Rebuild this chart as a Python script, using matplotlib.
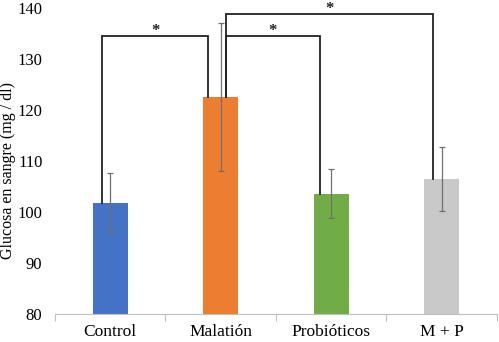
import matplotlib
matplotlib.use("Agg")
import matplotlib.pyplot as plt
from matplotlib.ticker import FixedLocator

categories = ["Control", "Malatión", "Probióticos", "M + P"]
values = [101.8, 122.6, 103.6, 106.5]
errors = [5.8, 14.5, 4.8, 6.3]
colors = ["#4472C4", "#ED7D31", "#70AD47", "#C9C9C9"]
# significance brackets: (i, j, height)
brackets = [(0, 1, 134.4), (1, 2, 134.4), (1, 3, 138.8)]
ylabel = "Glucosa en sangre (mg / dl)"

plt.rcParams['font.family'] = ['Liberation Serif', 'DejaVu Serif']

fig = plt.figure(figsize=(4.99, 3.42), dpi=100)
ax = fig.add_axes([0.110, 0.082, 0.886, 0.895])

x = list(range(len(categories)))
ax.bar(x, values, width=0.317, color=colors, zorder=2)
ax.errorbar(x, values, yerr=errors, fmt='none', ecolor='#707070',
            elinewidth=0.9, capsize=2.5, capthick=0.9, zorder=3)

# leg x-offsets relative to bar centers (left side of bracket, right side)
left_off = {(0, 1): -0.07, (1, 2): 0.05, (1, 3): 0.05}
right_off = {(0, 1): -0.113, (1, 2): -0.104, (1, 3): -0.08}
for (i, j, h) in brackets:
    xl = x[i] + left_off[(i, j)]
    xr = x[j] + right_off[(i, j)]
    ax.plot([xl, xl, xr, xr], [values[i], h, h, values[j]],
            color='#222222', lw=1.3, zorder=4, solid_joinstyle='miter',
            clip_on=False)
    ax.text((xl + xr) / 2, h + 1.0, "*", ha='center', va='center',
            fontsize=12, color='#222222', fontweight='bold', clip_on=False)

ax.set_xlim(-0.5, len(categories) - 0.5)
ax.set_ylim(80, 140)
ax.set_yticks(range(80, 141, 10))
ax.set_xticks(x)
ax.set_xticklabels(categories, fontsize=12.5)
ax.tick_params(axis='x', length=0, pad=7)
ax.xaxis.set_minor_locator(FixedLocator([-0.5, 0.5, 1.5, 2.5, 3.5]))
ax.tick_params(axis='x', which='minor', length=5, color='#BFBFBF', width=0.8)
ax.tick_params(axis='y', length=0, labelsize=12, pad=9)
for s in ['top', 'right', 'left']:
    ax.spines[s].set_visible(False)
ax.spines['bottom'].set_color('#BFBFBF')
ax.spines['bottom'].set_linewidth(0.8)
ax.set_ylabel(ylabel, fontsize=11.5)
ax.yaxis.set_label_coords(-0.088, 0.47)

fig.savefig("out.png", dpi=100)
